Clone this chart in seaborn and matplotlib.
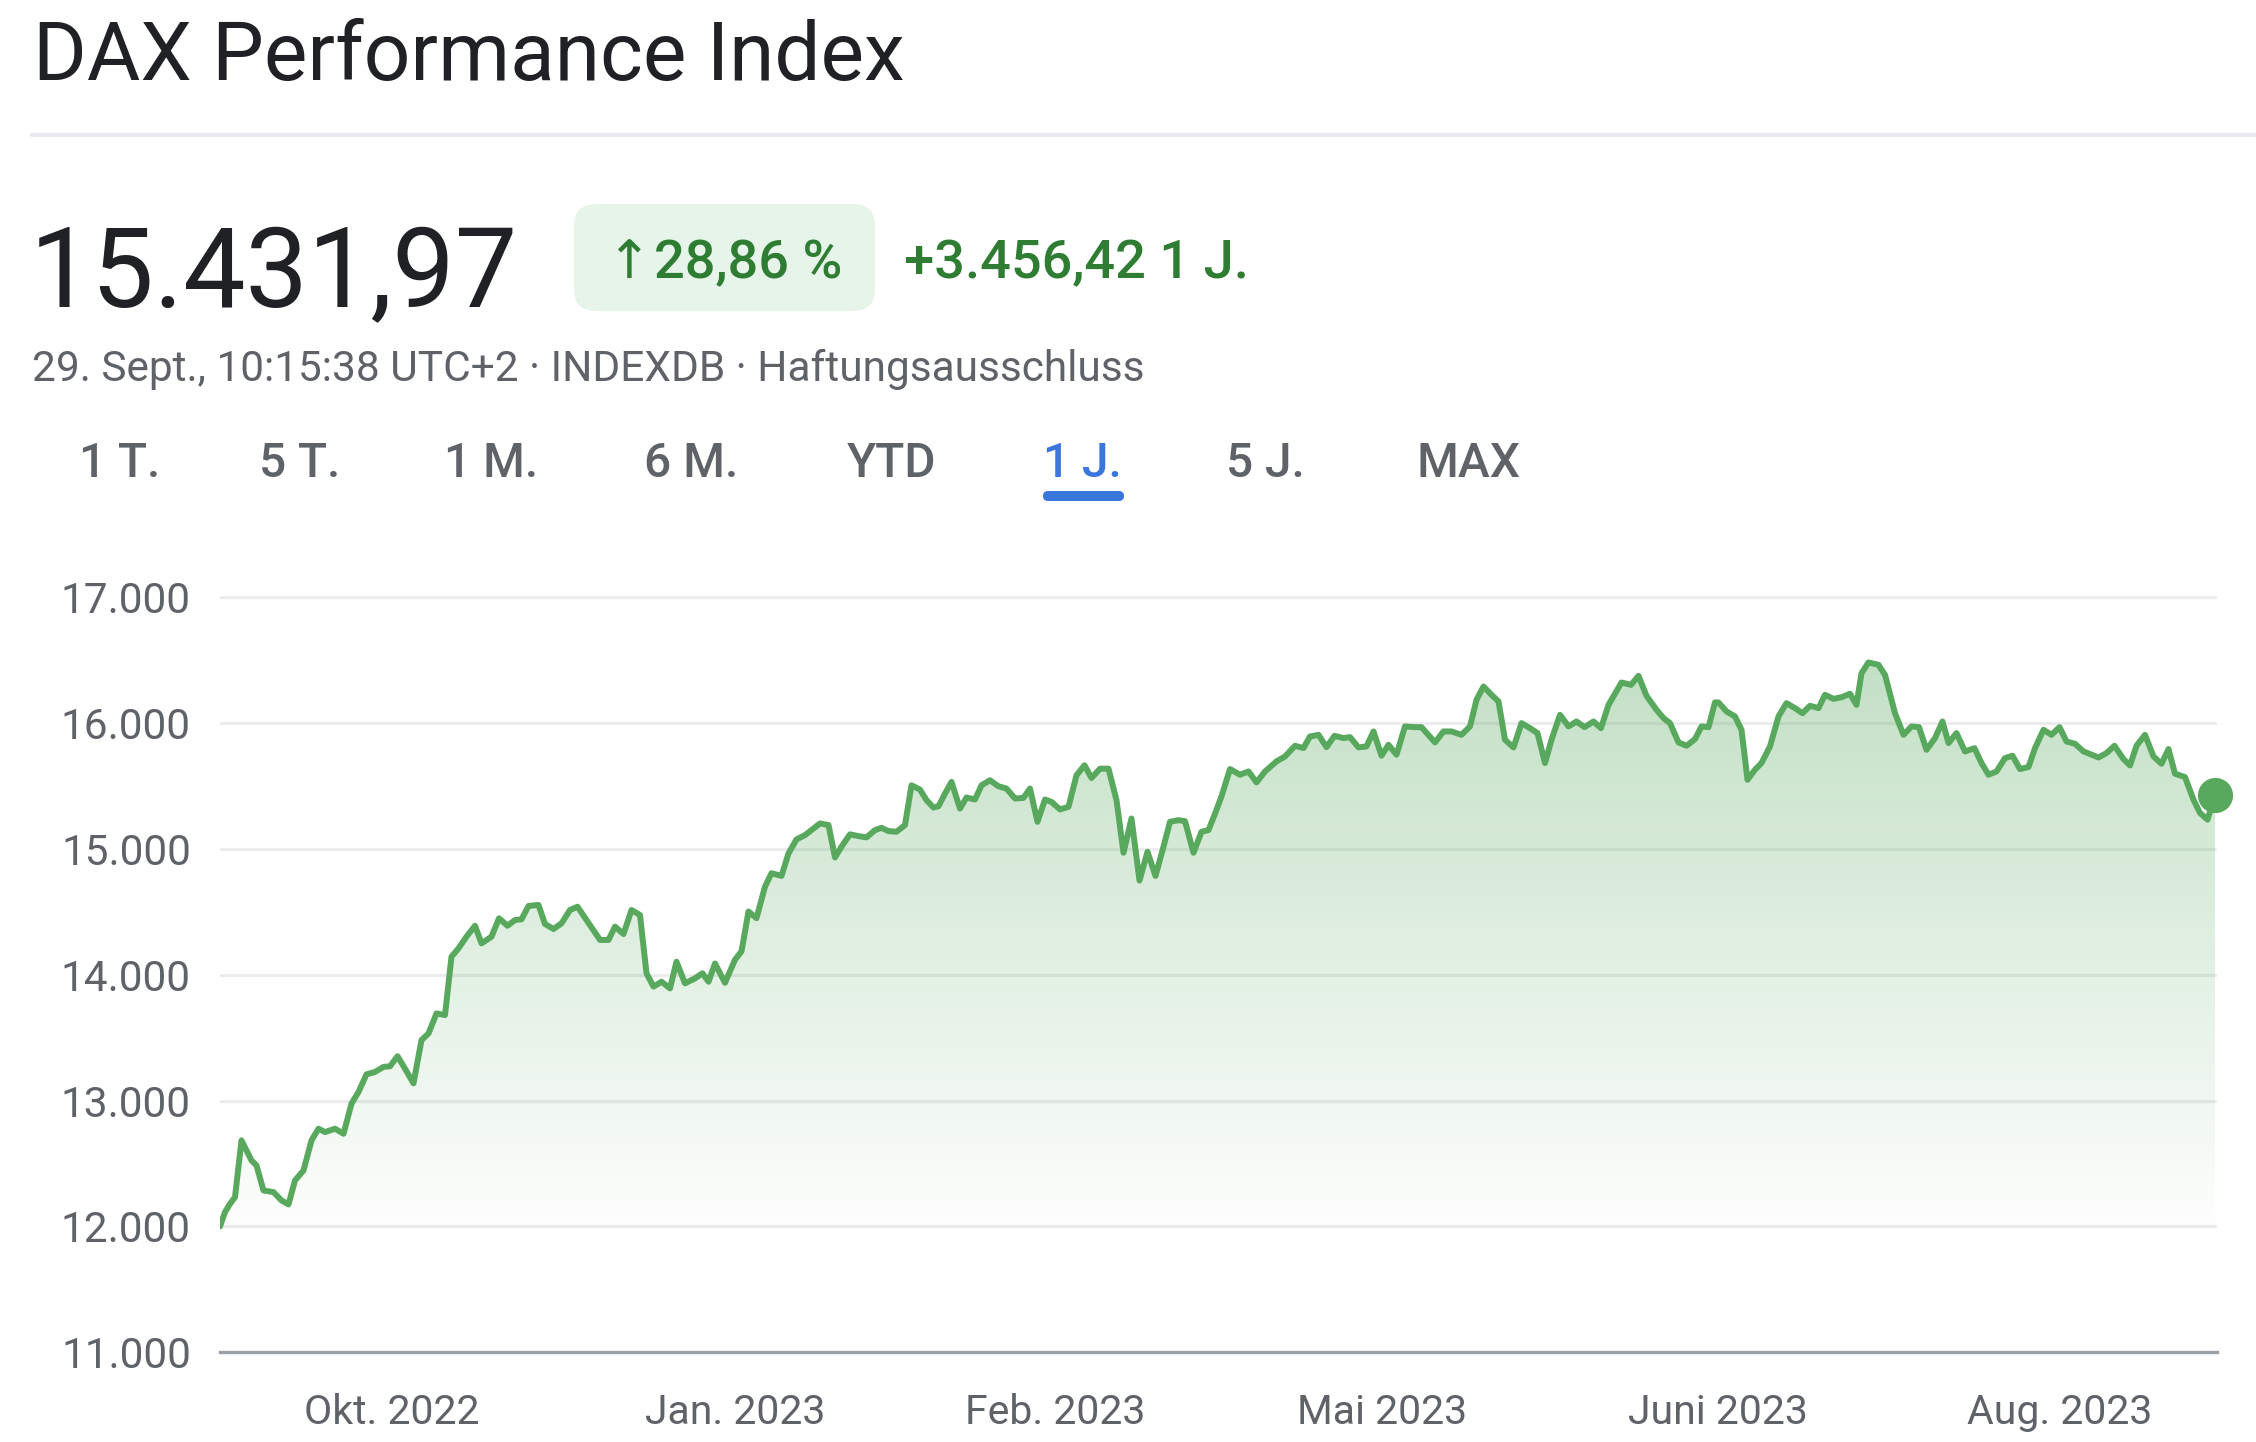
import numpy as np
import pandas as pd
import matplotlib
matplotlib.use("Agg")
import matplotlib.pyplot as plt
import seaborn as sns
from matplotlib.patches import FancyBboxPatch, PathPatch
from matplotlib.lines import Line2D
from matplotlib.transforms import IdentityTransform
from matplotlib.ticker import FuncFormatter, FixedLocator

# ---------------- data ----------------
days = [0, 1, 2, 3, 4.3, 5.3, 6.3, 7.3, 8.7, 10.7, 12.3, 13.7, 15, 16.7, 18.3, 19.7, 21, 23, 24.7,
        26.3, 27.7, 29.3, 31, 32.7, 34, 35.5, 37, 38.7, 40.3, 41.7, 43.3, 45, 46.3, 47.7, 49.3, 51,
        52.3, 54.3, 55.8, 57.5, 59, 60.3, 61.7, 63.7, 65, 66.7, 68.3, 70, 71.5, 73.3, 76, 77.7, 79,
        80.7, 82.3, 84, 85.3, 86.7, 88.3, 90, 91.3, 93, 95, 96.5, 97.7,
        99, 101, 103, 104.3, 105.7, 107.3, 109, 110.3, 112.3, 113.7, 115.3, 117, 118.7, 120, 121.7,
        123, 124.3, 126, 127.7, 129.3, 131, 132.3, 133.7, 135.3, 137, 138.3, 140, 141.3, 142.7,
        143.7, 145, 146.3, 148, 149.3, 151, 152.3, 154, 155.7, 157.3, 159, 160.7, 162, 163.5, 165,
        166.3, 168, 169.7, 171.3, 172.9, 174.3, 176, 177.7, 179.3, 180.7, 182.3, 183.9, 185.5,
        187.1, 188.7, 190, 191.7, 193, 194.7, 196.3, 197.7,
        199, 200.3, 202, 204, 205.7, 207.3, 209, 211.3, 213, 215, 216.7, 218, 219.7, 221.3, 222.9,
        224.7, 226, 227.7, 229.3, 230.7, 232.3, 233.7, 235.3, 237, 239, 240.3, 243, 244.7, 246.3,
        248.3, 250, 251.3, 252.7, 254.3, 255.7, 257, 258.7, 260.3, 262, 263.5, 265, 266.3, 268,
        269.7, 271.3, 272.9, 274.7, 276.2, 277.7, 280.3, 282.2, 283.7, 285.3, 287.3, 288.7, 290,
        291.7, 293.3, 295, 296.3, 297.7,
        299, 299.7, 301.3, 303, 304.3, 305.5, 307, 308.3, 310, 311.7, 313.3, 315, 316.5, 318,
        319.7, 321, 322.7, 324.3, 326, 327.3, 328.3, 329.7, 331.7, 333, 335, 336.7, 338.3, 339.8,
        341.3, 343, 344.5, 345.7, 347.3, 349, 350.9, 352.3, 353.7, 355.3, 357, 358.5, 360, 361.7,
        363, 364.7, 366.3, 367.9, 369.3, 371, 372.7, 375.7, 377.3, 378.9, 380.7, 382, 383.3, 385,
        386.7, 388.3, 389.7, 391, 393, 394.7, 396, 397.5, 399]

values = [12000, 12114, 12180, 12233, 12684, 12605, 12525, 12485, 12286, 12273, 12207, 12175, 12366,
          12445, 12684, 12777, 12750, 12777, 12737, 12976, 13069, 13209, 13228, 13268, 13273, 13353,
          13254, 13137, 13481, 13534, 13693, 13680, 14144, 14210, 14303, 14390, 14250, 14303, 14449,
          14390, 14435, 14441, 14547, 14555, 14404, 14364, 14409, 14515, 14541, 14435, 14277, 14277,
          14383, 14324, 14515, 14475, 14012, 13906, 13945, 13892, 14104, 13932, 13972, 14012, 13945,
          14090, 13936, 14120, 14186, 14503, 14450, 14701, 14807, 14786, 14965, 15076, 15110, 15163,
          15203, 15190, 14933, 15018, 15116, 15102, 15092, 15150, 15168, 15142, 15137, 15190, 15506,
          15472, 15388, 15329, 15340, 15440, 15533, 15321, 15409, 15393, 15506, 15546, 15498, 15480,
          15401, 15406, 15480, 15216, 15393, 15374, 15314, 15335, 15586, 15665, 15564, 15638, 15638,
          15388, 14970, 15242, 14749, 14978, 14786, 15018, 15216, 15229, 15221, 14970, 15137, 15150,
          15280, 15418, 15635, 15590, 15616, 15529, 15616, 15696, 15735, 15820, 15802, 15894, 15907,
          15809, 15899, 15881, 15889, 15807, 15815, 15934, 15741, 15828, 15749, 15974, 15968, 15968,
          15847, 15934, 15934, 15907, 15974, 16185, 16291, 16225, 16172, 15868, 15807, 16000, 15960,
          15921, 15683, 15868, 16066, 15974, 16013, 15968, 16013, 15960, 16145, 16323, 16304, 16376,
          16217, 16106, 16040, 16000, 15847, 15820, 15873, 15974, 15968,
          16165, 16164, 16093, 16053, 15947, 15550, 15630, 15683, 15815, 16053, 16159, 16119, 16079,
          16138, 16119, 16225, 16193, 16206, 16233, 16145, 16397, 16482, 16463, 16384, 16079, 15907,
          15974, 15968, 15788, 15881, 16013, 15841, 15921, 15775, 15801, 15683, 15590, 15616, 15722,
          15741, 15635, 15651, 15801, 15947, 15907, 15968, 15854, 15836, 15775, 15727, 15762, 15820,
          15714, 15664, 15820, 15907, 15735, 15677, 15794, 15598, 15571, 15391, 15286, 15233, 15432]

tick_pos = [34.4, 103, 167, 232.4, 299.6, 368]
tick_labels = ["Okt. 2022", "Jan. 2023", "Feb. 2023", "Mai 2023", "Juni 2023", "Aug. 2023"]
y_ticks = [11000, 12000, 13000, 14000, 15000, 16000, 17000]
tabs = ["1 T.", "5 T.", "1 M.", "6 M.", "YTD", "1 J.", "5 J.", "MAX"]
tab_centers = [120, 300, 491, 691, 892, 1082, 1265, 1469]

df = pd.DataFrame({"day": days, "value": values})

# ---------------- style ----------------
sns.set_theme(style="white")
plt.rcParams["font.family"] = ["Roboto", "DejaVu Sans"]

W, H = 2256, 1442
DPI = 100
fig = plt.figure(figsize=(W / DPI, H / DPI), dpi=DPI)
fig.patch.set_facecolor("white")

GREEN = "#58a85d"
GRAY = "#5f6368"
DARK = "#202124"
TXT_GREEN = "#2e7d32"
BLUE = "#3a76dc"

def fx(x):
    return x / W

def fy(y):
    return 1 - y / H

# axes placement (pixel -> figure)
y_top_val = 17100
px_per_unit = (1352.3 - 597.3) / 6000.0
top_px = 597.3 - (y_top_val - 17000) * px_per_unit
ax = fig.add_axes([fx(220), fy(1352.3), (2217 - 220) / W, (1352.3 - top_px) / H])
ax.set_xlim(0, 399.4)
ax.set_ylim(11000, y_top_val)
ax.set_facecolor("none")

# gridlines
for yv in y_ticks[1:]:
    ax.axhline(yv, color="#ececee", lw=2.2, zorder=0)

# gradient fill clipped to the area under the line
poly = ax.fill_between(df["day"], df["value"], 11000, facecolor="none", edgecolor="none")
path = poly.get_paths()[0]
clip_patch = PathPatch(path, transform=ax.transData, facecolor="none", edgecolor="none")
ax.add_patch(clip_patch)
ys = np.linspace(11000, y_top_val, 400)
alpha = np.clip((ys - 11850) / (16500 - 11850), 0, 1) * 0.36
img = np.zeros((len(ys), 1, 4))
img[:, 0, 0] = 0.345
img[:, 0, 1] = 0.66
img[:, 0, 2] = 0.365
img[:, 0, 3] = alpha
im = ax.imshow(img, extent=[0, 399.4, 11000, y_top_val], origin="lower", aspect="auto",
               interpolation="bilinear", zorder=1)
im.set_clip_path(clip_patch)

# line
sns.lineplot(data=df, x="day", y="value", ax=ax, color=GREEN, lw=4.3, zorder=3,
             solid_joinstyle="round", solid_capstyle="round", sort=False)
ax.scatter([days[-1]], [values[-1]], s=640, color=GREEN, zorder=5, clip_on=False, linewidths=0)

# axes styling
for s in ["left", "right", "top"]:
    ax.spines[s].set_visible(False)
ax.spines["bottom"].set_color("#9aa0a6")
ax.spines["bottom"].set_linewidth(2.4)
ax.spines["bottom"].set_zorder(4)
ax.xaxis.set_major_locator(FixedLocator(tick_pos))
ax.set_xticklabels(tick_labels)
ax.yaxis.set_major_locator(FixedLocator(y_ticks))
ax.yaxis.set_major_formatter(FuncFormatter(lambda v, p: f"{v:,.0f}".replace(",", ".")))
ax.tick_params(axis="x", direction="out", length=12.5, width=2.2, color=GRAY,
               labelsize=29.5, labelcolor=GRAY, pad=17)
ax.tick_params(axis="y", length=0, labelsize=30.5, labelcolor=GRAY, pad=21)
ax.set_xlabel("")
ax.set_ylabel("")
ax.grid(False)

# ---------------- header ----------------
fig.text(fx(33), fy(80), "DAX Performance Index", fontsize=59, color=DARK, va="baseline", ha="left")
fig.add_artist(Line2D([fx(32), fx(2256)], [fy(135), fy(135)], color="#e8eaed", lw=3))

fig.text(fx(30), fy(307), "15.431,97", fontsize=80, color=DARK, va="baseline", ha="left")

badge = FancyBboxPatch((574, H - 311), 301, 107, boxstyle="round,pad=0,rounding_size=22",
                       transform=IdentityTransform(), facecolor="#e6f4ea", edgecolor="none")
fig.add_artist(badge)
fig.text(fx(606), fy(278), "↑", fontsize=38.5, color=TXT_GREEN, va="baseline", ha="left",
         fontweight="medium")
fig.text(fx(654), fy(278), "28,86 %", fontsize=39, color=TXT_GREEN, va="baseline", ha="left",
         fontweight="medium")
fig.text(fx(904), fy(278), "+3.456,42 1 J.", fontsize=39, color=TXT_GREEN, va="baseline", ha="left",
         fontweight="medium")

fig.text(fx(32), fy(381), "29. Sept., 10:15:38 UTC+2 · INDEXDB · Haftungsausschluss", fontsize=30.5,
         color=GRAY, va="baseline", ha="left")

for lab, cx in zip(tabs, tab_centers):
    fig.text(fx(cx), fy(477), lab, fontsize=34.5, color=(BLUE if lab == "1 J." else GRAY),
             va="baseline", ha="center", fontweight="medium")

underline = FancyBboxPatch((1043, H - 501), 81, 10, boxstyle="round,pad=0,rounding_size=5",
                           transform=IdentityTransform(), facecolor=BLUE, edgecolor="none")
fig.add_artist(underline)

fig.savefig("out.png", dpi=DPI, facecolor="white")
